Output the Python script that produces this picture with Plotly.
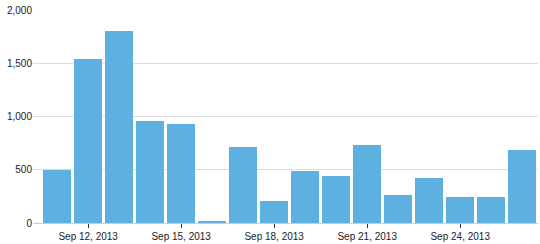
import plotly.graph_objects as go
import pandas as pd

dates = pd.date_range("2013-09-11", "2013-09-26", freq="D")
values = [500, 1540, 1800, 960, 925, 10, 715, 210, 485, 440, 735, 265, 418, 241, 241, 683]
tick_dates = ["2013-09-12", "2013-09-15", "2013-09-18", "2013-09-21", "2013-09-24"]
tick_labels = ["Sep 12, 2013", "Sep 15, 2013", "Sep 18, 2013", "Sep 21, 2013", "Sep 24, 2013"]
y_ticks = [0, 500, 1000, 1500, 2000]
y_labels = ["0", "500", "1,000", "1,500", "2,000"]

day_ms = 86400000
fig = go.Figure(go.Bar(
    x=dates, y=values, width=[0.89 * day_ms] * len(values),
    marker=dict(color="#5DB0E0", line=dict(width=0)),
))

x0 = pd.Timestamp("2013-09-11") - pd.Timedelta(days=0.78)
x1 = pd.Timestamp("2013-09-26") + pd.Timedelta(days=0.51)

fig.update_layout(
    width=540, height=244,
    margin=dict(l=33, r=2, t=10, b=21),
    paper_bgcolor="white", plot_bgcolor="white",
    font=dict(family="Liberation Sans, Arial, sans-serif", size=10, color="#222222"),
    showlegend=False,
    bargap=0,
)
fig.update_xaxes(
    type="date", range=[x0, x1],
    tickvals=tick_dates, ticktext=tick_labels,
    ticks="outside", ticklen=4, tickcolor="#333333", tickwidth=1,
    showgrid=False, showline=False, zeroline=False,
)
fig.update_yaxes(
    range=[0, 2000], tickvals=y_ticks, ticktext=y_labels,
    showgrid=True, gridcolor="#dddddd", gridwidth=1,
    zeroline=True, zerolinecolor="#cccccc", zerolinewidth=1,
    showline=False, ticks="",
)
fig.write_html("out.html")
